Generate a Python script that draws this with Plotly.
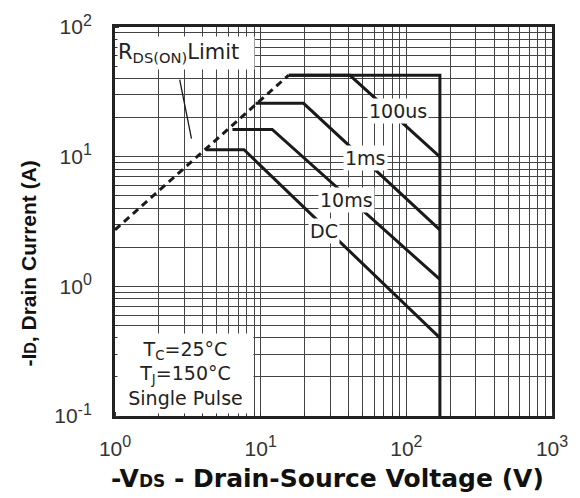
import math
import plotly.graph_objects as go

# ---- data ----
rds_v = [1.0, 15.6]
rds_i = [2.73, 42.6]

box_v = [15.6, 170, 170]
box_i = [42.4, 42.4, 0.1]

us100_v = [15.6, 41.0, 170]
us100_i = [42.4, 42.4, 9.95]

ms1_v = [9.23, 19.7, 170]
ms1_i = [25.8, 25.8, 2.73]

ms10_v = [6.4, 12.0, 170]
ms10_i = [16.2, 16.2, 1.13]

dc_v = [4.21, 7.69, 170]
dc_i = [11.3, 11.3, 0.40]

curve_labels = ["100us", "1ms", "10ms", "DC"]
label_v = [87.3, 52.8, 38.6, 27.0]
label_i = [22.7, 9.8, 4.67, 2.65]

SUP = "<sup><span style='font-size:16px'>{}</span></sup>"
x_tick_vals = [1, 10, 100, 1000]
x_tick_text = ["10" + SUP.format(e) for e in ["0", "1", "2", "3"]]
y_tick_vals = [0.1, 1, 10, 100]
y_tick_text = ["10" + SUP.format(e) for e in ["-1", "0", "1", "2"]]

x_title = "-V<span style='font-size:17px'>DS</span> - Drain-Source Voltage (V)"
y_title = "-I<span style='font-size:16px'>D</span>, Drain Current (A)"

FONT = "Liberation Sans, Arial, sans-serif"
LFONT = "DejaVu Sans, sans-serif"
INK = "#1a1a1a"
GRID = "#444444"

fig = go.Figure()
fig.add_trace(go.Scatter(x=rds_v, y=rds_i, mode="lines",
                         line=dict(color=INK, width=3, dash="7px,5px"), showlegend=False))
for xs, ys in [(box_v, box_i), (us100_v, us100_i), (ms1_v, ms1_i), (ms10_v, ms10_i), (dc_v, dc_i)]:
    fig.add_trace(go.Scatter(x=xs, y=ys, mode="lines",
                             line=dict(color=INK, width=3), showlegend=False))

for t, xv, yv in zip(curve_labels, label_v, label_i):
    fig.add_annotation(x=math.log10(xv), y=math.log10(yv),
                       text=t, showarrow=False, bgcolor="white",
                       font=dict(family=LFONT, size=19, color="#222"), borderpad=1)

# RDS(ON) limit label in a white box
fig.add_annotation(xref="x domain", yref="y domain", x=0.005, y=0.977,
                   xanchor="left", yanchor="top", width=136, height=32,
                   align="left", valign="middle", bgcolor="white", borderpad=0,
                   text="R<sub>DS(ON)</sub>Limit", showarrow=False,
                   font=dict(family=LFONT, size=21, color="#222"))
# leader line for RDS(ON) label
fig.add_shape(type="line", xref="x domain", yref="y domain", x0=0.148, y0=0.865, x1=0.175, y1=0.713,
              line=dict(color=INK, width=1.3))

# conditions box
fig.add_annotation(xref="x domain", yref="y domain", x=0.005, y=0.005,
                   xanchor="left", yanchor="bottom", width=135, height=79,
                   align="center", valign="middle", bgcolor="white", borderpad=0,
                   text="T<sub>C</sub>=25°C<br>T<sub>J</sub>=150°C<br>Single Pulse", showarrow=False,
                   font=dict(family=LFONT, size=19, color="#222"))

# axis titles
fig.add_annotation(xref="paper", yref="paper", x=0.486, y=-0.161, xanchor="center", yanchor="middle",
                   text=x_title, showarrow=False,
                   font=dict(family="DejaVu Sans, sans-serif", size=25, color="#111", weight="bold"))
fig.add_annotation(xref="paper", yref="paper", x=-0.198, y=0.393, xanchor="center", yanchor="middle",
                   text=y_title, showarrow=False, textangle=-90,
                   font=dict(family=FONT, size=21, color="#111", weight="bold"))

axis_common = dict(
    type="log", tickmode="array",
    showgrid=True, gridcolor=GRID, gridwidth=1.2,
    showline=True, linecolor="#222", linewidth=3, mirror=True,
    ticks="", tickfont=dict(family=FONT, size=21, color="#333"),
    minor=dict(dtick="D1", showgrid=True, gridcolor=GRID, gridwidth=1.2,
               ticks="inside", ticklen=4, tickcolor="#333"),
    zeroline=False,
)

fig.update_xaxes(**axis_common, range=[0, 3], tickvals=x_tick_vals, ticktext=x_tick_text,
                 ticklabelstandoff=12)
fig.update_yaxes(**axis_common, range=[-1, 2], tickvals=y_tick_vals, ticktext=y_tick_text,
                 ticklabelstandoff=16)

fig.update_layout(width=580, height=498, margin=dict(l=115, r=25, t=24, b=82),
                  plot_bgcolor="white", paper_bgcolor="white")

fig.write_html("out.html")
